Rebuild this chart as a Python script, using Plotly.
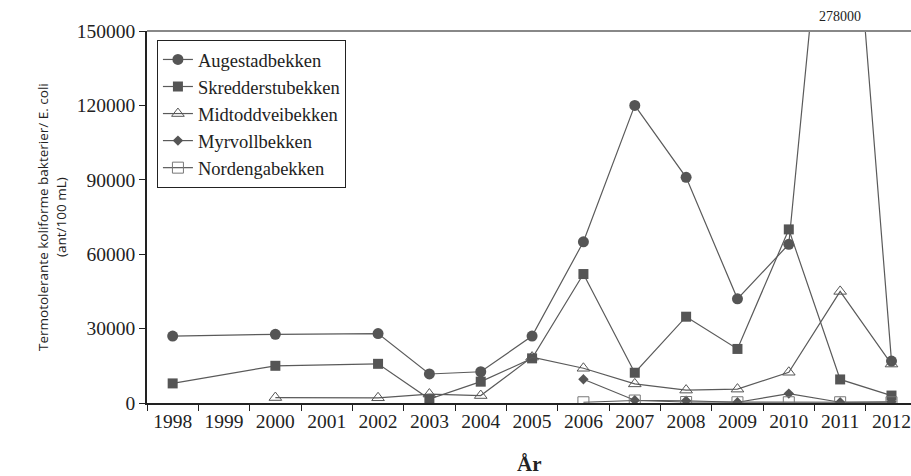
import plotly.graph_objects as go

years = ["1998", "1999", "2000", "2001", "2002", "2003", "2004", "2005",
         "2006", "2007", "2008", "2009", "2010", "2011", "2012"]

augestad = [27000, None, 27700, None, 28000, 11700, 12600, 27000,
            65000, 120000, 91000, 42000, 64000, 278000, 16900]
skredder = [7900, None, 15000, None, 15800, 1600, 8600, 18000,
            52000, 12200, 34800, 21800, 70000, 9500, 3000]
midtodd = [None, None, 2200, None, 2100, 3600, 3000, 18500,
           14000, 7700, 5200, 5600, 12400, 45000, 15700]
myrvoll = [None, None, None, None, None, None, None, None,
           9600, 1100, 900, 300, 3800, 300, 500]
nordenga = [None, None, None, None, None, None, None, None,
            300, 1000, 400, 300, 300, 300, 300]

series = [
    ("Augestadbekken", augestad, dict(symbol="circle", size=11, color="#555555")),
    ("Skredderstubekken", skredder, dict(symbol="square", size=10, color="#555555")),
    ("Midtoddveibekken", midtodd, dict(symbol="triangle-up-open", size=11, color="#555555",
                                        line=dict(width=1, color="#555555"))),
    ("Myrvollbekken", myrvoll, dict(symbol="diamond", size=8, color="#555555")),
    ("Nordengabekken", nordenga, dict(symbol="square-open", size=11, color="#777777",
                                       line=dict(width=1, color="#777777"))),
]

fig = go.Figure()
for name, vals, mk in series:
    fig.add_trace(go.Scatter(
        x=years, y=vals, name=name, mode="lines+markers",
        connectgaps=True,
        line=dict(color="#5a5a5a", width=1.2),
        marker=mk,
    ))

serif = "Liberation Serif, Times New Roman, serif"
x_lo, x_hi = -0.5, 14.38

fig.update_layout(
    width=911, height=476,
    margin=dict(l=147, r=0, t=31, b=73),
    plot_bgcolor="white", paper_bgcolor="white",
    font=dict(family=serif, size=19, color="#222222"),
    showlegend=True,
    legend=dict(
        x=0.013, y=0.976, xanchor="left", yanchor="top",
        bordercolor="#222222", borderwidth=1,
        font=dict(family=serif, size=18.5, color="#222222"),
        bgcolor="white",
        tracegroupgap=0,
    ),
    xaxis=dict(
        type="category", categoryorder="array", categoryarray=years,
        range=[x_lo, x_hi],
        tickson="boundaries", ticks="outside", ticklen=6, tickcolor="#222222",
        showline=True, linecolor="#222222", linewidth=2,
        showgrid=False, zeroline=False,
        tickfont=dict(family=serif, size=19.5, color="#222222"),
    ),
    yaxis=dict(
        range=[0, 150000], tickvals=[0, 30000, 60000, 90000, 120000, 150000],
        ticktext=["0", "30000", "60000", "90000", "120000", "150000"],
        ticks="outside", ticklen=6, tickcolor="#222222",
        showline=True, linecolor="#222222", linewidth=1.5,
        showgrid=False, zeroline=False,
        tickfont=dict(family=serif, size=19.5, color="#222222"),
    ),
    shapes=[dict(type="line", xref="paper", yref="paper", x0=0, x1=1, y0=1, y1=1,
                 line=dict(color="#888888", width=2))],
    annotations=[
        dict(text="278000", x=(years.index("2011") - x_lo) / (x_hi - x_lo), y=1,
             xref="paper", yref="paper",
             xanchor="center", yanchor="middle", yshift=15, showarrow=False,
             font=dict(family=serif, size=14, color="#222222")),
        dict(text="Termotolerante koliforme bakterier/ E. coli<br>(ant/100 mL)",
             x=0, y=0.5, xref="paper", yref="paper", xshift=-95,
             xanchor="center", yanchor="middle", textangle=-90, showarrow=False,
             font=dict(family="Open Sans, sans-serif", size=13.5, color="#222222")),
        dict(text="<b>År</b>", x=0.5, y=0, xref="paper", yref="paper",
             yshift=-61, yanchor="middle", showarrow=False,
             font=dict(family=serif, size=21, color="#222222")),
    ],
)

fig.write_html("out.html", config={"displayModeBar": False},
               post_script="document.body.style.margin='0';document.body.style.overflow='hidden';")
